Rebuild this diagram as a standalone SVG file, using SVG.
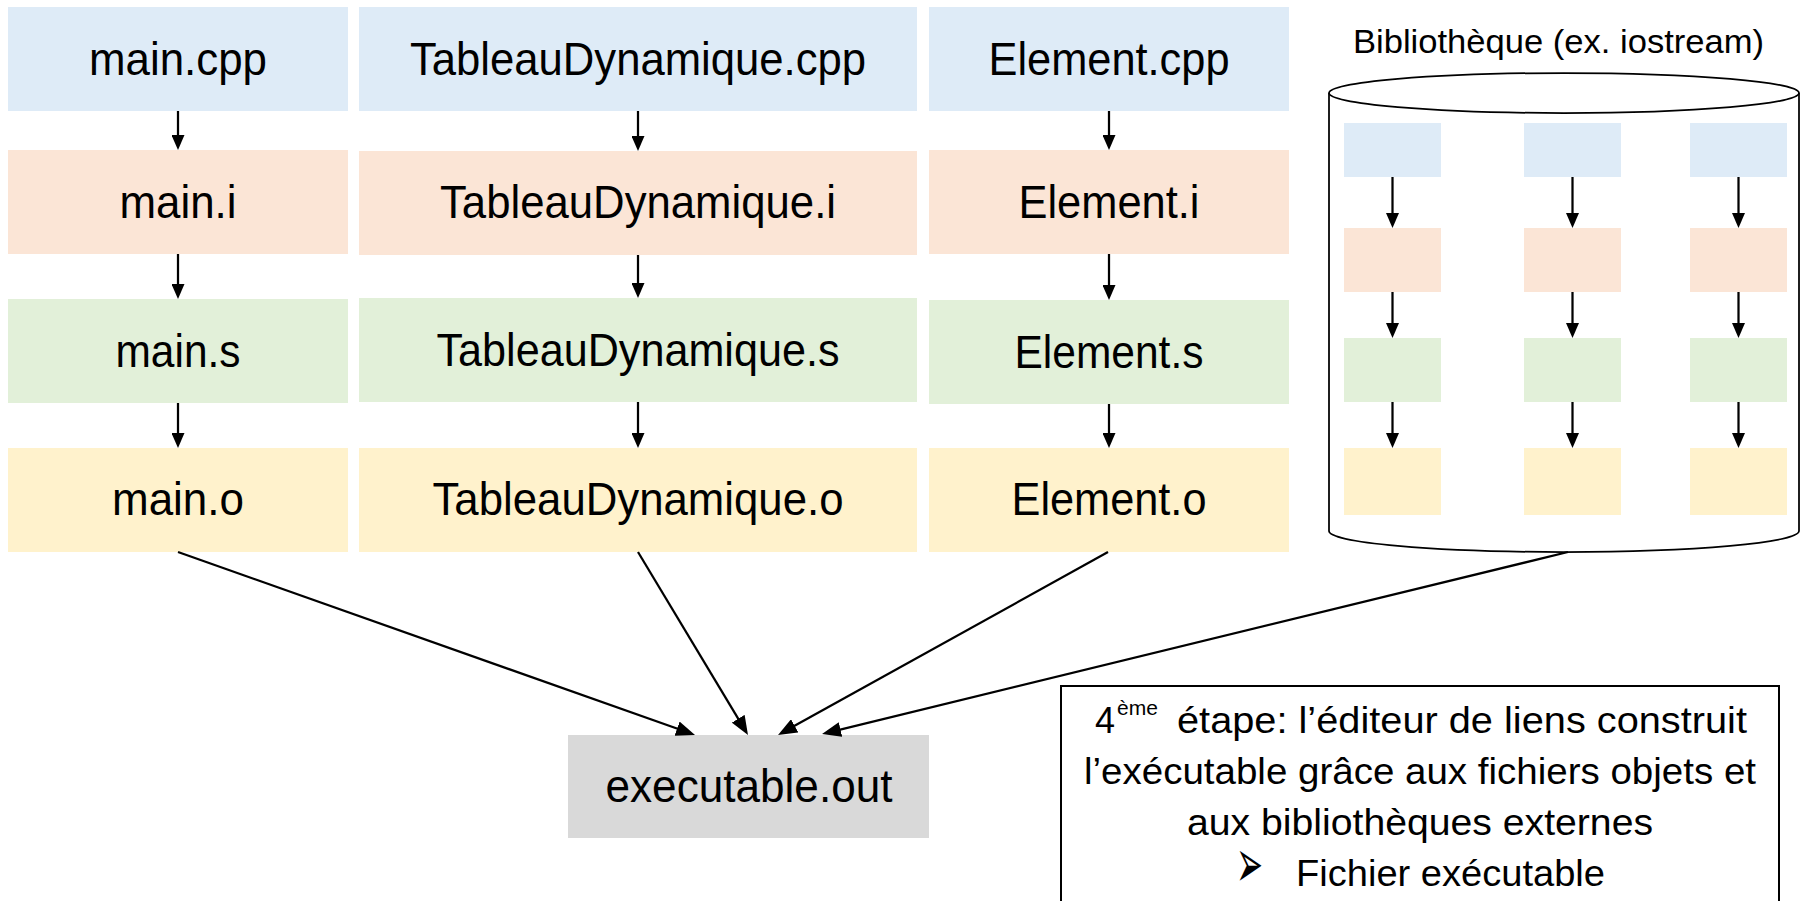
<svg xmlns="http://www.w3.org/2000/svg" width="1800" height="901" viewBox="0 0 1800 901">
<style>
text{font-family:"Liberation Sans",Arial,sans-serif;fill:#000}
.lbl{font-size:47px;text-anchor:middle}
.blue{fill:#DEEBF7}
.orange{fill:#FBE5D6}
.green{fill:#E2F0D9}
.yellow{fill:#FFF2CC}
.gray{fill:#D9D9D9}
.arr{stroke:#000;stroke-width:2.25;fill:none;marker-end:url(#ah)}
.arrb{stroke:#000;stroke-width:2.25;fill:none;marker-end:url(#ahb)}
.note{font-size:36px;text-anchor:middle}
</style>
<defs>
<marker id="ah" markerUnits="userSpaceOnUse" markerWidth="15" markerHeight="13" refX="10" refY="6.5" orient="auto"><path d="M0,0 L15,6.5 L0,13 z" fill="#000"/></marker>
<marker id="ahb" markerUnits="userSpaceOnUse" markerWidth="19" markerHeight="15" refX="14" refY="7.5" orient="auto"><path d="M0,0 L19,7.5 L0,15 z" fill="#000"/></marker>
</defs>
<rect width="1800" height="901" fill="#fff"/>

<g id="main-cpp"><rect class="blue" x="8" y="7" width="340" height="104"/><text class="lbl" x="178" y="75" textLength="178" lengthAdjust="spacingAndGlyphs">main.cpp</text></g>
<g id="tableau-cpp"><rect class="blue" x="359" y="7" width="558" height="104"/><text class="lbl" x="638" y="75" textLength="456" lengthAdjust="spacingAndGlyphs">TableauDynamique.cpp</text></g>
<g id="element-cpp"><rect class="blue" x="929" y="7" width="360" height="104"/><text class="lbl" x="1109" y="75" textLength="241" lengthAdjust="spacingAndGlyphs">Element.cpp</text></g>

<g id="main-i"><rect class="orange" x="8" y="150" width="340" height="104"/><text class="lbl" x="178" y="218" textLength="117" lengthAdjust="spacingAndGlyphs">main.i</text></g>
<g id="tableau-i"><rect class="orange" x="359" y="151" width="558" height="104"/><text class="lbl" x="638" y="218" textLength="396" lengthAdjust="spacingAndGlyphs">TableauDynamique.i</text></g>
<g id="element-i"><rect class="orange" x="929" y="150" width="360" height="104"/><text class="lbl" x="1109" y="218" textLength="181" lengthAdjust="spacingAndGlyphs">Element.i</text></g>

<g id="main-s"><rect class="green" x="8" y="299" width="340" height="104"/><text class="lbl" x="178" y="367" textLength="125" lengthAdjust="spacingAndGlyphs">main.s</text></g>
<g id="tableau-s"><rect class="green" x="359" y="298" width="558" height="104"/><text class="lbl" x="638" y="366" textLength="403" lengthAdjust="spacingAndGlyphs">TableauDynamique.s</text></g>
<g id="element-s"><rect class="green" x="929" y="300" width="360" height="104"/><text class="lbl" x="1109" y="368" textLength="189" lengthAdjust="spacingAndGlyphs">Element.s</text></g>

<g id="main-o"><rect class="yellow" x="8" y="448" width="340" height="104"/><text class="lbl" x="178" y="515" textLength="132" lengthAdjust="spacingAndGlyphs">main.o</text></g>
<g id="tableau-o"><rect class="yellow" x="359" y="448" width="558" height="104"/><text class="lbl" x="638" y="515" textLength="411" lengthAdjust="spacingAndGlyphs">TableauDynamique.o</text></g>
<g id="element-o"><rect class="yellow" x="929" y="448" width="360" height="104"/><text class="lbl" x="1109" y="515" textLength="195" lengthAdjust="spacingAndGlyphs">Element.o</text></g>

<g id="executable"><rect class="gray" x="568" y="735" width="361" height="103"/><text class="lbl" x="749" y="802" textLength="287" lengthAdjust="spacingAndGlyphs">executable.out</text></g>

<g id="bibliotheque">
<text x="1558.5" y="53" font-size="34" text-anchor="middle" textLength="411" lengthAdjust="spacingAndGlyphs">Bibliothèque (ex. iostream)</text>
<path d="M1329,93 L1329,531 A235,21 0 0 0 1799,531 L1799,93" fill="#fff" stroke="#000" stroke-width="1.75"/>
<ellipse cx="1564" cy="93" rx="235" ry="20" fill="#fff" stroke="#000" stroke-width="1.75"/>
<rect class="blue" x="1344" y="123" width="97" height="54"/>
<rect class="blue" x="1524" y="123" width="97" height="54"/>
<rect class="blue" x="1690" y="123" width="97" height="54"/>
<rect class="orange" x="1344" y="228" width="97" height="64"/>
<rect class="orange" x="1524" y="228" width="97" height="64"/>
<rect class="orange" x="1690" y="228" width="97" height="64"/>
<rect class="green" x="1344" y="338" width="97" height="64"/>
<rect class="green" x="1524" y="338" width="97" height="64"/>
<rect class="green" x="1690" y="338" width="97" height="64"/>
<rect class="yellow" x="1344" y="448" width="97" height="67"/>
<rect class="yellow" x="1524" y="448" width="97" height="67"/>
<rect class="yellow" x="1690" y="448" width="97" height="67"/>
<line class="arr" x1="1392.5" y1="177" x2="1392.5" y2="223"/>
<line class="arr" x1="1572.5" y1="177" x2="1572.5" y2="223"/>
<line class="arr" x1="1738.5" y1="177" x2="1738.5" y2="223"/>
<line class="arr" x1="1392.5" y1="292" x2="1392.5" y2="333"/>
<line class="arr" x1="1572.5" y1="292" x2="1572.5" y2="333"/>
<line class="arr" x1="1738.5" y1="292" x2="1738.5" y2="333"/>
<line class="arr" x1="1392.5" y1="402" x2="1392.5" y2="443"/>
<line class="arr" x1="1572.5" y1="402" x2="1572.5" y2="443"/>
<line class="arr" x1="1738.5" y1="402" x2="1738.5" y2="443"/>
</g>

<g id="connectors">
<line class="arr" x1="178" y1="111" x2="178" y2="145"/>
<line class="arr" x1="178" y1="254" x2="178" y2="294"/>
<line class="arr" x1="178" y1="403" x2="178" y2="443"/>
<line class="arr" x1="638" y1="111" x2="638" y2="146"/>
<line class="arr" x1="638" y1="255" x2="638" y2="293"/>
<line class="arr" x1="638" y1="402" x2="638" y2="443"/>
<line class="arr" x1="1109" y1="111" x2="1109" y2="145"/>
<line class="arr" x1="1109" y1="254" x2="1109" y2="295"/>
<line class="arr" x1="1109" y1="404" x2="1109" y2="443"/>
<line class="arrb" x1="178" y1="552" x2="690.3" y2="733.3"/>
<line class="arrb" x1="638" y1="552" x2="745.4" y2="730.7"/>
<line class="arrb" x1="1108" y1="552" x2="782.4" y2="732.6"/>
<line class="arrb" x1="1568" y1="552" x2="826.9" y2="732.8"/>
</g>

<g id="note">
<rect x="1061" y="686" width="718" height="240" fill="#fff" stroke="#000" stroke-width="2"/>
<text x="1095" y="733" font-size="36">4<tspan x="1117" dy="-18" font-size="21">ème</tspan><tspan x="1177" dy="18" textLength="570" lengthAdjust="spacingAndGlyphs">étape: l’éditeur de liens construit</tspan></text>
<text class="note" x="1420" y="784" textLength="672" lengthAdjust="spacingAndGlyphs">l’exécutable grâce aux fichiers objets et</text>
<text class="note" x="1420" y="835" textLength="466" lengthAdjust="spacingAndGlyphs">aux bibliothèques externes</text>
<text transform="translate(1236,887) scale(1,1.7)" x="0" y="0" font-size="40" textLength="27" lengthAdjust="spacingAndGlyphs" style="font-family:'DejaVu Sans',sans-serif">➢</text>
<text x="1296" y="886" font-size="36" textLength="309" lengthAdjust="spacingAndGlyphs">Fichier exécutable</text>
</g>
</svg>
